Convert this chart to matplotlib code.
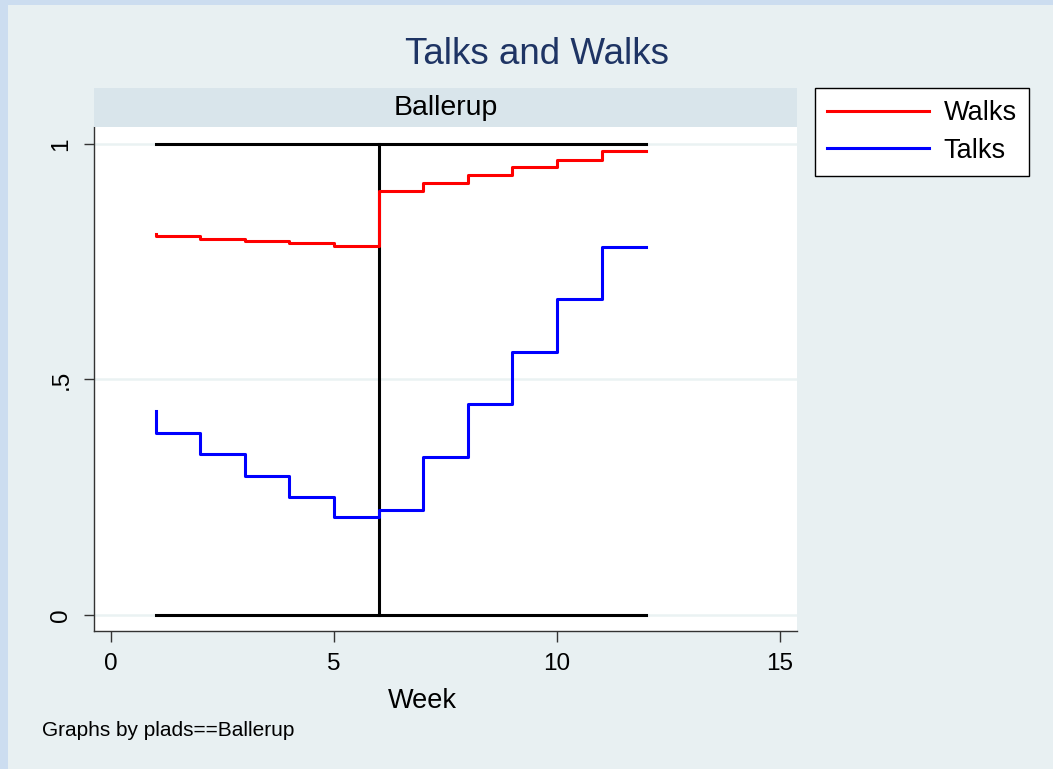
import matplotlib
matplotlib.use("Agg")
import matplotlib.pyplot as plt
from matplotlib.patches import Rectangle

plt.rcParams['font.family'] = ['Liberation Sans', 'DejaVu Sans']

# data
weeks = [1, 2, 3, 4, 5, 6, 7, 8, 9, 10, 11, 12]
walks = [0.808, 0.804, 0.799, 0.794, 0.790, 0.784, 0.900, 0.917, 0.934, 0.952, 0.967, 0.984]
talks = [0.433, 0.386, 0.342, 0.296, 0.250, 0.207, 0.223, 0.335, 0.447, 0.558, 0.670, 0.781]
ref_x = [1, 12]
ref_low = [0, 0]
ref_high = [1, 1]
break_week = 6
xticks = [0, 5, 10, 15]
yticks = [0, 0.5, 1]
ytick_labels = ["0", ".5", "1"]

W, H = 1053, 769
fig = plt.figure(figsize=(W / 100, H / 100), dpi=100)
fig.patch.set_facecolor("#CCDDF0")

panel_col = "#E8F0F2"
fig.add_artist(Rectangle((8 / W, 0), 1, 1 - 5 / H, transform=fig.transFigure,
                         facecolor=panel_col, edgecolor="none", zorder=0))

# strip header
fig.add_artist(Rectangle((94 / W, 1 - 127 / H), (797 - 94) / W, 39 / H,
                         transform=fig.transFigure, facecolor="#D9E5EB",
                         edgecolor="none", zorder=1))
fig.text(445.5 / W, 1 - 108 / H, "Ballerup", ha="center", va="center",
         fontsize=20.5, color="black")

ax = fig.add_axes([94 / W, 1 - 631 / H, (797 - 94) / W, (631 - 127) / H])
ax.set_facecolor("white")

for yv in yticks:
    ax.axhline(yv, color="#EAF2F3", lw=1.8, zorder=1)

ax.plot(ref_x, ref_low, color="black", lw=2.2, zorder=3)
ax.plot(ref_x, ref_high, color="black", lw=2.2, zorder=3)
ax.plot([break_week, break_week], [0, 1], color="black", lw=2.2, zorder=3)

ax.plot(weeks, walks, drawstyle="steps-pre", color="#FF0000", lw=2.2, label="Walks", zorder=4)
ax.plot(weeks, talks, drawstyle="steps-pre", color="#0000FF", lw=2.2, label="Talks", zorder=4)

ax.set_xlim(-0.381, 15.38)
ax.set_ylim(-0.034, 1.036)
ax.set_xticks(xticks)
ax.set_yticks(yticks)
ax.set_yticklabels(ytick_labels, rotation=90, va="center")

for s in ["top", "right"]:
    ax.spines[s].set_visible(False)
for s in ["left", "bottom"]:
    ax.spines[s].set_color("#333333")
    ax.spines[s].set_linewidth(1.0)

ax.tick_params(axis="x", length=8, width=1, color="#333333", labelsize=17.5, pad=8)
ax.tick_params(axis="y", length=7.5, width=1, color="#333333", labelsize=17.5, pad=8)

fig.text(537 / W, 1 - 54 / H, "Talks and Walks", ha="center", va="center",
         fontsize=26.5, color="#1E3464")
fig.text(422 / W, 1 - 701 / H, "Week", ha="center", va="center", fontsize=19.5)
fig.text(42 / W, 1 - 730 / H, "Graphs by plads==Ballerup", ha="left", va="center",
         fontsize=15)

leg = fig.legend(loc="upper left", bbox_to_anchor=(815 / W, 1 - 88 / H),
                 fontsize=19.5, handlelength=3.75, handletextpad=0.55,
                 borderpad=0.45, labelspacing=0.42, borderaxespad=0,
                 fancybox=False, framealpha=1, edgecolor="black")
leg.get_frame().set_linewidth(1.0)

fig.savefig("out.png", dpi=100, facecolor=fig.get_facecolor())
